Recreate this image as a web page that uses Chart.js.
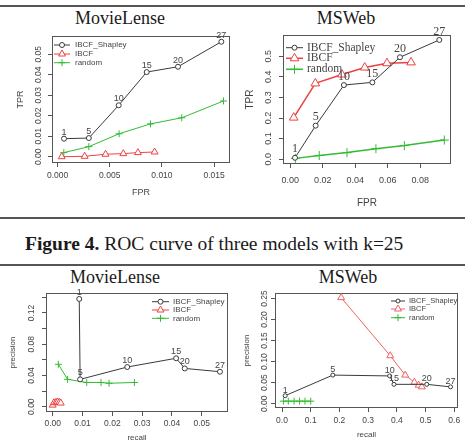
<!DOCTYPE html>
<html><head><meta charset="utf-8">
<script src="https://cdn.jsdelivr.net/npm/chart.js@4.4.0/dist/chart.umd.min.js"></script>
<style>
html,body{margin:0;padding:0;background:#fff;}
#wrap{position:relative;width:465px;height:448px;overflow:hidden;background:#fff;}
canvas{position:absolute;left:0;top:0;}
.t{position:absolute;font-family:"Liberation Serif","Times New Roman",serif;font-size:18px;line-height:18px;color:#1a1a1a;white-space:nowrap;text-align:center;width:200px;}
.cap{position:absolute;left:25px;top:233.5px;font-family:"Liberation Serif","Times New Roman",serif;font-size:19.5px;line-height:19.5px;color:#1a1a1a;white-space:nowrap;}
.rule{position:absolute;left:0;width:465px;background:#555;}
</style></head><body>
<div id="wrap">
  <div class="rule" style="top:5px;height:2px"></div>
  <div class="t" style="left:20px;top:9px">MovieLense</div>
  <div class="t" style="left:246px;top:9px">MSWeb</div>
  <div class="rule" style="top:217px;height:2px"></div>
  <div class="cap"><b>Figure 4.</b> ROC curve of three models with k=25</div>
  <div class="rule" style="top:264px;height:2px"></div>
  <div class="t" style="left:15px;top:268px">MovieLense</div>
  <div class="t" style="left:248px;top:268px">MSWeb</div>
  <canvas id="cA" width="465" height="448"></canvas>
  <canvas id="cB" width="465" height="448"></canvas>
  <canvas id="cC" width="465" height="448"></canvas>
  <canvas id="cD" width="465" height="448"></canvas>
</div>
<script>
// ---------- data ----------
const kLabels = ['1','5','10','15','20','27'];
const seriesNames = ['IBCF_Shapley','IBCF','random'];

// MovieLense ROC (FPR, TPR)
const mlRocShapleyFPR = [0.00062, 0.0030, 0.00586, 0.00854, 0.01154, 0.01569];
const mlRocShapleyTPR = [0.0088, 0.0091, 0.0251, 0.0413, 0.0439, 0.0561];
const mlRocIbcfFPR    = [0.0004, 0.0026, 0.0046, 0.0063, 0.0077, 0.0093];
const mlRocIbcfTPR    = [0.0000, 0.0002, 0.0012, 0.0015, 0.0020, 0.0023];
const mlRocRandomFPR  = [0.0006, 0.0030, 0.0059, 0.0089, 0.0119, 0.0159];
const mlRocRandomTPR  = [0.0020, 0.0049, 0.0112, 0.0160, 0.0190, 0.0272];
const mlRocXTicks = [0, 0.005, 0.010, 0.015];
const mlRocXTickLabels = ['0.000','0.005','0.010','0.015'];
const mlRocYTicks = [0, 0.01, 0.02, 0.03, 0.04, 0.05];
const mlRocYTickLabels = ['0.00','0.01','0.02','0.03','0.04','0.05'];

// MSWeb ROC (FPR, TPR)
const msRocShapleyFPR = [0.0029, 0.0156, 0.0330, 0.0505, 0.0675, 0.0917];
const msRocShapleyTPR = [0.007, 0.163, 0.360, 0.373, 0.495, 0.579];
const msRocIbcfFPR    = [0.0021, 0.0154, 0.0318, 0.0458, 0.0595, 0.0743];
const msRocIbcfTPR    = [0.202, 0.368, 0.411, 0.445, 0.466, 0.470];
const msRocRandomFPR  = [0.0031, 0.0178, 0.0349, 0.0527, 0.0702, 0.0948];
const msRocRandomTPR  = [0.004, 0.018, 0.032, 0.051, 0.066, 0.093];
const msRocXTicks = [0, 0.02, 0.04, 0.06, 0.08];
const msRocXTickLabels = ['0.00','0.02','0.04','0.06','0.08'];
const msRocYTicks = [0, 0.1, 0.2, 0.3, 0.4, 0.5];
const msRocYTickLabels = ['0.0','0.1','0.2','0.3','0.4','0.5'];

// MovieLense precision / recall
const mlPrShapleyRecall = [0.0089, 0.0092, 0.0250, 0.0414, 0.0443, 0.0561];
const mlPrShapleyPrec   = [0.138, 0.035, 0.0508, 0.062, 0.049, 0.0448];
const mlPrIbcfRecall    = [0.0000, 0.0004, 0.0011, 0.0016, 0.0022, 0.0027];
const mlPrIbcfPrec      = [0.002, 0.005, 0.0056, 0.006, 0.0056, 0.0047];
const mlPrRandomRecall  = [0.0019, 0.0050, 0.0114, 0.0162, 0.0189, 0.0274];
const mlPrRandomPrec    = [0.0543, 0.035, 0.031, 0.031, 0.030, 0.031];
const mlPrXTicks = [0, 0.01, 0.02, 0.03, 0.04, 0.05];
const mlPrXTickLabels = ['0.00','0.01','0.02','0.03','0.04','0.05'];
const mlPrYTicks = [0, 0.02, 0.04, 0.06, 0.08, 0.10, 0.12, 0.14];
const mlPrYTickLabels = ['0.00','','0.04','','0.08','','0.12',''];

// MSWeb precision / recall
const msPrShapleyRecall = [0.011, 0.177, 0.375, 0.390, 0.504, 0.587];
const msPrShapleyPrec   = [0.019, 0.068, 0.066, 0.046, 0.046, 0.040];
const msPrIbcfRecall    = [0.206, 0.377, 0.429, 0.461, 0.476, 0.487];
const msPrIbcfPrec      = [0.252, 0.114, 0.068, 0.051, 0.044, 0.040];
const msPrRandomRecall  = [0.005, 0.022, 0.042, 0.061, 0.080, 0.100];
const msPrRandomPrec    = [0.006, 0.006, 0.006, 0.006, 0.006, 0.006];
const msPrXTicks = [0, 0.1, 0.2, 0.3, 0.4, 0.5, 0.6];
const msPrXTickLabels = ['0.0','0.1','0.2','0.3','0.4','0.5','0.6'];
const msPrYTicks = [0, 0.05, 0.10, 0.15, 0.20, 0.25];
const msPrYTickLabels = ['0.00','0.05','0.10','0.15','0.20','0.25'];

// ---------- helpers ----------
const SANS = '"Liberation Sans", Arial, sans-serif';
const SERIF = '"Liberation Serif", "Times New Roman", serif';
const COL = {shap:'#3a3a3a', ibcf:'#ee4040', rand:'#33bb33'};
const TXT = '#444';
const AX = '#555';

function zip(xs, ys){ return xs.map((x, i) => ({x: x, y: ys[i]})); }

function ds(label, xs, ys, color, style, r, lw){
  return {label, data: zip(xs, ys), showLine: true, borderColor: color, borderWidth: lw,
    pointStyle: style, pointRadius: r, pointBorderColor: color, pointBackgroundColor: '#fff',
    pointBorderWidth: 1, clip: false};
}

function mark(ctx, style, x, y, r, color){
  ctx.save();
  ctx.strokeStyle = color; ctx.fillStyle = '#fff'; ctx.lineWidth = 1;
  ctx.beginPath();
  if (style === 'circle'){ ctx.arc(x, y, r, 0, Math.PI*2); ctx.fill(); ctx.stroke(); }
  else if (style === 'triangle'){
    for (let k = 0; k < 3; k++){
      const a = -Math.PI/2 + k*2*Math.PI/3;
      const px = x + Math.cos(a)*r, py = y + Math.sin(a)*r;
      if (k === 0) ctx.moveTo(px, py); else ctx.lineTo(px, py);
    }
    ctx.closePath(); ctx.fill(); ctx.stroke();
  } else {
    ctx.moveTo(x - r, y); ctx.lineTo(x + r, y); ctx.moveTo(x, y - r); ctx.lineTo(x, y + r); ctx.stroke();
  }
  ctx.restore();
}

function makePanel(id, sp, datasets){
  const W = sp.yAxisW, H = sp.xAxisH;
  const deco = {
    id: 'deco_' + id,
    beforeDatasetsDraw(chart){
      const a = chart.chartArea, ctx = chart.ctx;
      ctx.save(); ctx.strokeStyle = AX; ctx.lineWidth = 1;
      ctx.strokeRect(a.left + 0.5, a.top + 0.5, a.right - a.left - 1, a.bottom - a.top - 1);
      ctx.restore();
    },
    afterDatasetsDraw(chart){
      const ctx = chart.ctx;
      const meta = chart.getDatasetMeta(0);
      ctx.save();
      ctx.font = sp.labelFont; ctx.fillStyle = TXT; ctx.textAlign = 'center'; ctx.textBaseline = 'middle';
      meta.data.forEach((el, i) => { ctx.fillText(kLabels[i], el.x, el.y - sp.labelDy); });
      ctx.restore();
      const L = sp.legend;
      chart.data.datasets.forEach((d, i) => {
        const y = L.ys[i];
        ctx.save();
        ctx.strokeStyle = d.borderColor; ctx.lineWidth = d.borderWidth;
        ctx.beginPath(); ctx.moveTo(L.x0, y); ctx.lineTo(L.x1, y); ctx.stroke();
        ctx.restore();
        mark(ctx, d.pointStyle, (L.x0 + L.x1)/2, y, d.pointRadius, d.borderColor);
        ctx.save();
        ctx.font = L.font; ctx.fillStyle = TXT; ctx.textAlign = 'left'; ctx.textBaseline = 'middle';
        ctx.fillText(d.label, L.tx, y);
        ctx.restore();
      });
    }
  };
  return new Chart(document.getElementById(id), {
    type: 'scatter',
    data: {datasets},
    options: {
      responsive: false, animation: false, events: [],
      layout: {padding: {left: sp.box.l - W, top: sp.box.t, right: 465 - sp.box.r, bottom: 448 - sp.box.b - H}},
      plugins: {legend: {display: false}, tooltip: {enabled: false}, title: {display: false}},
      scales: {
        x: {
          type: 'linear', position: 'bottom', bounds: 'data', min: sp.xMin, max: sp.xMax,
          afterBuildTicks: s => { s.ticks = sp.xTicks.map(v => ({value: v})); },
          afterFit: s => { s.height = H; },
          ticks: {autoSkip: false, minRotation: 0, maxRotation: 0, padding: sp.xPad, color: TXT,
            font: sp.tickFont, callback: (v, i) => sp.xTickLabels[i]},
          grid: {display: true, drawOnChartArea: false, drawTicks: true, tickLength: 4, color: AX, lineWidth: 1},
          border: {display: false},
          title: {display: true, text: sp.xTitle, color: TXT, font: sp.titleFont, padding: 0}
        },
        y: {
          type: 'linear', position: 'left', bounds: 'data', min: sp.yMin, max: sp.yMax,
          afterBuildTicks: s => { s.ticks = sp.yTicks.map(v => ({value: v})); },
          afterFit: s => { s.width = W; },
          ticks: {autoSkip: false, minRotation: 90, maxRotation: 90, crossAlign: 'center', padding: sp.yPad,
            color: TXT, font: sp.tickFont, callback: (v, i) => sp.yTickLabels[i]},
          grid: {display: true, drawOnChartArea: false, drawTicks: true, tickLength: 4, color: AX, lineWidth: 1},
          border: {display: false},
          title: {display: true, text: sp.yTitle, color: TXT, font: sp.titleFont, padding: 0}
        }
      }
    },
    plugins: [deco]
  });
}

// ---------- panel A: MovieLense ROC ----------
makePanel('cA', {
  box: {l: 52, t: 36, r: 230, b: 163}, yAxisW: 37, xAxisH: 35,
  xMin: -0.00053, xMax: 0.01652, yMin: -0.00307, yMax: 0.0589,
  xTicks: mlRocXTicks, xTickLabels: mlRocXTickLabels, yTicks: mlRocYTicks, yTickLabels: mlRocYTickLabels,
  xPad: 3.5, yPad: 0.75, tickFont: {family: SANS, size: 8.5}, titleFont: {family: SANS, size: 9},
  xTitle: 'FPR', yTitle: 'TPR',
  labelFont: '9px ' + SANS, labelDy: 6.5,
  legend: {x0: 54, x1: 70, tx: 75, ys: [45, 54, 62.7], font: '8px ' + SANS}
}, [
  ds(seriesNames[0], mlRocShapleyFPR, mlRocShapleyTPR, COL.shap, 'circle', 2.5, 1),
  ds(seriesNames[1], mlRocIbcfFPR, mlRocIbcfTPR, COL.ibcf, 'triangle', 4, 1),
  ds(seriesNames[2], mlRocRandomFPR, mlRocRandomTPR, COL.rand, 'cross', 3.5, 1)
]);

// ---------- panel B: MSWeb ROC ----------
makePanel('cB', {
  box: {l: 283, t: 35, r: 451, b: 164}, yAxisW: 39, xAxisH: 45,
  xMin: -0.0045, xMax: 0.0989, yMin: -0.0233, yMax: 0.603,
  xTicks: msRocXTicks, xTickLabels: msRocXTickLabels, yTicks: msRocYTicks, yTickLabels: msRocYTickLabels,
  xPad: 7, yPad: 4, tickFont: {family: SANS, size: 9}, titleFont: {family: SANS, size: 10},
  xTitle: 'FPR', yTitle: 'TPR',
  labelFont: '12px ' + SERIF, labelDy: 8.5,
  legend: {x0: 286, x1: 303, tx: 307, ys: [47.7, 58.3, 69.3], font: '11.5px ' + SERIF}
}, [
  ds(seriesNames[0], msRocShapleyFPR, msRocShapleyTPR, COL.shap, 'circle', 2.5, 1),
  ds(seriesNames[1], msRocIbcfFPR, msRocIbcfTPR, COL.ibcf, 'triangle', 5, 1.5),
  ds(seriesNames[2], msRocRandomFPR, msRocRandomTPR, COL.rand, 'cross', 4.5, 1.5)
]);

// ---------- panel C: MovieLense precision/recall ----------
makePanel('cC', {
  box: {l: 46, t: 293, r: 228, b: 412}, yAxisW: 38, xAxisH: 31,
  xMin: -0.00225, xMax: 0.0588, yMin: -0.0068, yMax: 0.1456,
  xTicks: mlPrXTicks, xTickLabels: mlPrXTickLabels, yTicks: mlPrYTicks, yTickLabels: mlPrYTickLabels,
  xPad: 3, yPad: 2, tickFont: {family: SANS, size: 8.5}, titleFont: {family: SANS, size: 8},
  xTitle: 'recall', yTitle: 'precision',
  labelFont: '9px ' + SANS, labelDy: 6.5,
  legend: {x0: 152, x1: 169, tx: 173, ys: [301.7, 310, 318.3], font: '8px ' + SANS}
}, [
  ds(seriesNames[0], mlPrShapleyRecall, mlPrShapleyPrec, COL.shap, 'circle', 2.5, 1),
  ds(seriesNames[1], mlPrIbcfRecall, mlPrIbcfPrec, COL.ibcf, 'triangle', 4, 1),
  ds(seriesNames[2], mlPrRandomRecall, mlPrRandomPrec, COL.rand, 'cross', 3.5, 1)
]);

// ---------- panel D: MSWeb precision/recall ----------
makePanel('cD', {
  box: {l: 275, t: 293, r: 458, b: 408}, yAxisW: 33, xAxisH: 32,
  xMin: -0.0244, xMax: 0.613, yMin: -0.0102, yMax: 0.263,
  xTicks: msPrXTicks, xTickLabels: msPrXTickLabels, yTicks: msPrYTicks, yTickLabels: msPrYTickLabels,
  xPad: 3.5, yPad: -2, tickFont: {family: SANS, size: 8.5}, titleFont: {family: SANS, size: 8},
  xTitle: 'recall', yTitle: 'precision',
  labelFont: '9px ' + SANS, labelDy: 5.5,
  legend: {x0: 391, x1: 405, tx: 409, ys: [301, 309, 317.7], font: '7.5px ' + SANS}
}, [
  ds(seriesNames[0], msPrShapleyRecall, msPrShapleyPrec, COL.shap, 'circle', 2, 1),
  ds(seriesNames[1], msPrIbcfRecall, msPrIbcfPrec, '#f06060', 'triangle', 4, 1),
  ds(seriesNames[2], msPrRandomRecall, msPrRandomPrec, COL.rand, 'cross', 3.5, 1)
]);
</script>
</body></html>
